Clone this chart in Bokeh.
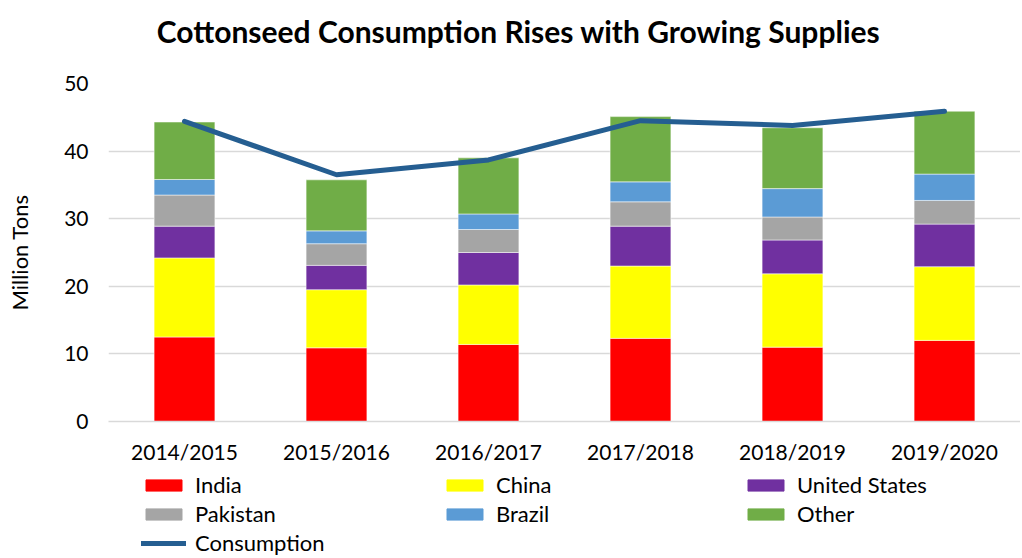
from bokeh.plotting import figure
from bokeh.layouts import column
from bokeh.models import FactorRange, Range1d, SingleIntervalTicker, Legend, LegendItem, ColumnDataSource
from bokeh.core.properties import value
from bokeh.embed import file_html
from bokeh.resources import INLINE

years = ["2014/2015", "2015/2016", "2016/2017", "2017/2018", "2018/2019", "2019/2020"]
india = [12.5, 10.9, 11.4, 12.3, 11.0, 12.0]
china = [11.7, 8.6, 8.8, 10.7, 10.85, 10.9]
united_states = [4.7, 3.6, 4.8, 5.9, 5.0, 6.3]
pakistan = [4.6, 3.2, 3.4, 3.6, 3.4, 3.5]
brazil = [2.3, 1.9, 2.3, 2.95, 4.2, 3.9]
other = [8.5, 7.55, 8.3, 9.65, 9.0, 9.3]
consumption = [44.4, 36.5, 38.7, 44.5, 43.8, 45.9]
title_text = "Cottonseed Consumption Rises with Growing Supplies"

series = ["India", "China", "United States", "Pakistan", "Brazil", "Other"]
colors = ["#ff0000", "#ffff00", "#7030a0", "#a5a5a5", "#5b9bd5", "#70ad47"]
line_color = "#255e91"

src = ColumnDataSource(dict(years=years, India=india, China=china,
                            **{"United States": united_states},
                            Pakistan=pakistan, Brazil=brazil, Other=other,
                            consumption=consumption))

FONT = "Lato"
FS = "21px"
W = 1020

def strip(h):
    f = figure(x_range=Range1d(0, 1), y_range=Range1d(0, 1), width=W, height=h,
               x_axis_type=None, y_axis_type=None,
               output_backend="svg", toolbar_location=None, min_border_left=108,
               min_border_right=0, min_border_top=0, min_border_bottom=0,
               outline_line_color=None)
    f.grid.visible = False
    return f

# title strip
tf = strip(60)
tf.text(x=[0.4496], y=[0.5], text=[title_text], text_align="center", text_baseline="middle",
        text_font=value(FONT), text_font_size="30px", text_font_style="bold",
        text_color="#000000")

p = figure(x_range=FactorRange(*years, range_padding=0), y_range=Range1d(0, 50),
           width=W, height=412, output_backend="svg", toolbar_location=None,
           min_border_left=108, min_border_right=0, min_border_top=23, min_border_bottom=51,
           outline_line_color=None)

p.vbar_stack(series, x="years", width=0.4, color=colors, source=src,
             line_color="white", line_width=0.5)
p.line(x="years", y="consumption", source=src, line_color=line_color, line_width=5,
       line_cap="round")

p.yaxis.ticker = SingleIntervalTicker(interval=10)
p.yaxis.axis_label = "Million Tons"
p.yaxis.axis_label_text_font = FONT
p.yaxis.axis_label_text_font_size = "22px"
p.yaxis.axis_label_text_font_style = "normal"
p.yaxis.axis_label_text_color = "#000000"
p.yaxis.axis_label_standoff = 28
p.yaxis.axis_line_color = None
p.yaxis.major_tick_line_color = None
p.yaxis.minor_tick_line_color = None
p.yaxis.major_label_text_font = FONT
p.yaxis.major_label_text_font_size = FS
p.yaxis.major_label_text_color = "#000000"
p.yaxis.major_label_standoff = 14

p.xaxis.axis_line_color = "#d9d9d9"
p.xaxis.axis_line_width = 1.5
p.xaxis.major_tick_line_color = None
p.xaxis.minor_tick_line_color = None
p.xaxis.major_label_text_font = FONT
p.xaxis.major_label_text_font_size = FS
p.xaxis.major_label_text_color = "#000000"
p.xaxis.major_label_standoff = 11

p.xgrid.grid_line_color = None
p.ygrid.grid_line_color = "#d9d9d9"
p.ygrid.grid_line_width = 1.5

# legend strip below the chart (swatch renderers are hidden; legend still shows them)
lf = strip(84)
items = []
for s, c in zip(series, colors):
    r = lf.vbar(x=[0.5], top=[1], width=0.1, fill_color=c, line_color=c, visible=False)
    items.append(LegendItem(label=s, renderers=[r]))
rl = lf.line(x=[0.4, 0.6], y=[0.5, 0.5], line_color=line_color, line_width=5,
             line_cap="round", visible=False)
items.append(LegendItem(label="Consumption", renderers=[rl]))
legend = Legend(items=items, ncols=3, location=(33, 0), orientation="horizontal",
                glyph_width=45, glyph_height=14, label_standoff=9, label_width=245,
                spacing=2, padding=0, margin=0, border_line_color=None,
                inactive_fill_alpha=0,
                label_text_font=FONT, label_text_font_size="22px",
                label_text_color="#000000", background_fill_alpha=0)
lf.add_layout(legend, "center")

open("out.html", "w").write(file_html(column(tf, p, lf, spacing=0), INLINE))
